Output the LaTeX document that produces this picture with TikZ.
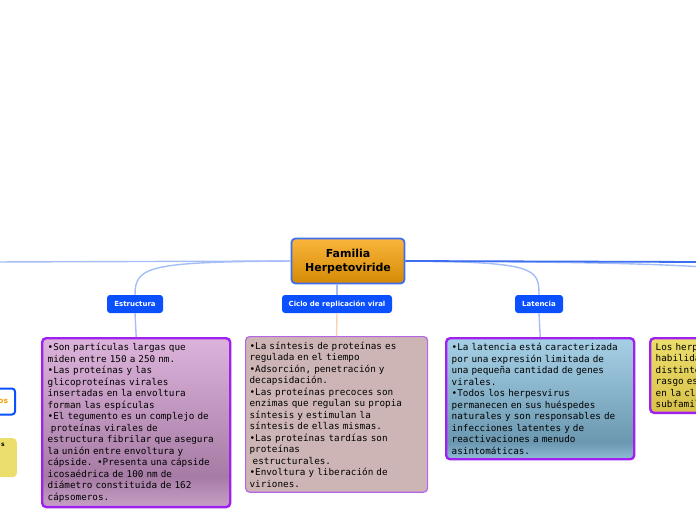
\documentclass[tikz,border=0pt]{standalone}
\usepackage{fontspec}
\setmainfont{DejaVu Sans}
\newfontfamily\monofont{DejaVu Sans Mono}
\usetikzlibrary{positioning}
\definecolor{mapblue}{HTML}{0A50FF}
\definecolor{linkblue}{HTML}{A6BEF7}
\definecolor{mainblue}{HTML}{3D6EF0}
\definecolor{linkpeach}{HTML}{F8D2B4}
\definecolor{boxpurple}{HTML}{A020F0}
\definecolor{cicpurple}{HTML}{B466E6}
\definecolor{famtop}{HTML}{F9B53C}
\definecolor{fambot}{HTML}{D48A04}
\definecolor{esttop}{HTML}{DCB3DA}
\definecolor{estdark}{HTML}{A67CA5}
\definecolor{estlow}{HTML}{C7A0C6}
\definecolor{cicfill}{HTML}{CDB5B5}
\definecolor{lattop}{HTML}{A6D0E6}
\definecolor{latdark}{HTML}{6B98B0}
\definecolor{latlow}{HTML}{90BDD5}
\definecolor{hertop}{HTML}{ECDE6C}
\definecolor{herbot}{HTML}{D8C24A}
\definecolor{textorange}{HTML}{F5A000}
\pgfdeclareverticalshading{estshade}{100bp}{color(0bp)=(estlow); color(25bp)=(estlow); color(34bp)=(estdark); color(75bp)=(esttop); color(100bp)=(esttop)}
\pgfdeclareverticalshading{latshade}{100bp}{color(0bp)=(latlow); color(25bp)=(latlow); color(32bp)=(latdark); color(75bp)=(lattop); color(100bp)=(lattop)}
\begin{document}
\begin{tikzpicture}[>=stealth, x=1pt, y=-1pt,
    keynode/.style={draw=mainblue, line width=1.8pt, rounded corners=4pt,
      top color=famtop, bottom color=fambot, minimum width=113pt, minimum height=45pt,
      align=center, font=\bfseries\fontsize{11}{14}\selectfont},
    topic/.style={fill=mapblue, rounded corners=3pt, text=white, minimum height=18pt,
      inner xsep=0pt, font=\bfseries\fontsize{7}{8}\selectfont},
    notebox/.style={anchor=north west, rounded corners=4pt, line width=2.4pt, draw=boxpurple,
      text width=177pt, inner xsep=5.5pt, inner ysep=5pt, align=left,
      font=\monofont\fontsize{9.3}{11.5}\selectfont},
    linkline/.style={draw=linkblue, line width=1.4pt},
    mainline/.style={draw=mainblue, line width=1.8pt}]
  \useasboundingbox (0,0) rectangle (696,520);
  \node[keynode] (fam) at (348,261) {Familia\\Herpetoviride};
  \node[topic, minimum width=56pt] (est) at (135,304) {Estructura};
  \node[topic, minimum width=110pt] (cic) at (337,304) {Ciclo de replicación viral};
  \node[topic, minimum width=48pt] (lat) at (539,304) {Latencia};
  \node[notebox, shading=estshade] (estbox) at (41,337) {%
    •Son partículas largas que\\
    miden entre 150 a 250 nm.\\
    •Las proteínas y las\\
    glicoproteínas virales\\
    insertadas en la envoltura\\
    forman las espículas\\
    •El tegumento es un complejo de\\
    ~proteínas virales de\\
    estructura fibrilar que asegura\\
    la unión entre envoltura y\\
    cápside. •Presenta una cápside\\
    icosaédrica de 100 nm de\\
    diámetro constituida de 162\\
    cápsomeros.};
  \node[notebox, fill=cicfill, draw=cicpurple, line width=1.2pt, text width=174pt,
    inner xsep=4pt] (cicbox) at (245,336) {%
    •La síntesis de proteínas es\\
    regulada en el tiempo\\
    •Adsorción, penetración y\\
    decapsidación.\\
    •Las proteínas precoces son\\
    enzimas que regulan su propia\\
    síntesis y estimulan la\\
    síntesis de ellas mismas.\\
    •Las proteínas tardías son\\
    proteínas\\
    ~estructurales.\\
    •Envoltura y liberación de\\
    viriones.};
  \node[notebox, shading=latshade] (latbox) at (445,337) {%
    •La latencia está caracterizada\\
    por una expresión limitada de\\
    una pequeña cantidad de genes\\
    virales.\\
    •Todos los herpesvirus\\
    permanecen en sus huéspedes\\
    naturales y son responsables de\\
    infecciones latentes y de\\
    reactivaciones a menudo\\
    asintomáticas.};
  \node[notebox, top color=hertop, bottom color=herbot] (herbox) at (649,337) {%
    Los herp\\
    habilida\\
    distinte\\
    rasgo es\\
    en la cl\\
    subfamil};
  \node[draw=mapblue, line width=2pt, fill=white, rounded corners=3pt, anchor=east,
    minimum height=26pt, inner xsep=7pt, text=textorange,
    font=\bfseries\fontsize{7.5}{8}\selectfont] (simbox) at (16,401.5) {os};
  \node[fill=hertop, rounded corners=4pt, anchor=north east, inner xsep=12pt, inner ysep=3pt,
    text height=5pt, text depth=28pt, font=\bfseries\fontsize{6}{7}\selectfont] (leftbox) at (17,438) {s};
  \coordinate (wl) at (-10,262);
  \coordinate (er) at (706,262);
  \coordinate (er2) at (706,267);
  \draw[linkline] (fam.west) -- (wl);
  \draw[linkline] (fam.west) .. controls (150,262) and (135,266) .. (est.north);
  \draw[linkline] (fam.east) .. controls (535,262) and (539,268) .. (lat.north);
  \draw[linkline] (fam.east) .. controls (600,262) and (650,264) .. (er2);
  \draw[mainline] (fam.east) -- (er);
  \draw[linkline] (fam.south -| cic.north) -- (cic.north);
  \draw[linkline] (est.south) -- (estbox.north);
  \draw[draw=linkpeach, line width=1.4pt] (cic.south) -- (cicbox.north);
  \draw[linkline] (lat.south) -- (latbox.north);
\end{tikzpicture}
\end{document}
